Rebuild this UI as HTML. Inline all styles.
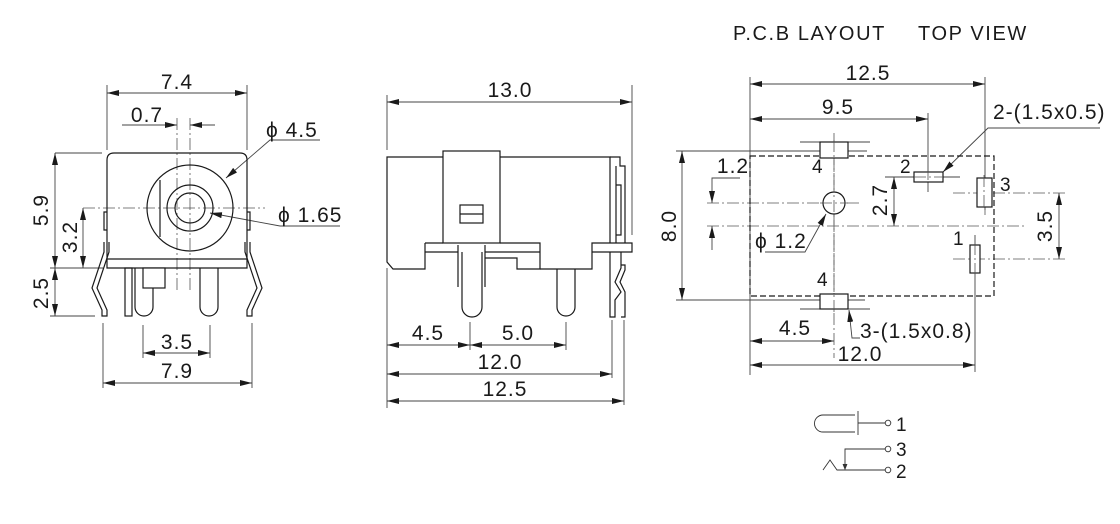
<!DOCTYPE html>
<html><head><meta charset="utf-8"><style>html,body{margin:0;padding:0;background:#fff}svg{display:block}text{font-family:"Liberation Sans",sans-serif;fill:#1a1a1a}</style></head><body>
<svg width="1120" height="524" viewBox="0 0 1120 524" xmlns="http://www.w3.org/2000/svg">
<defs>
<marker id="a" viewBox="0 0 12 6" refX="12" refY="3" markerWidth="12" markerHeight="6" orient="auto-start-reverse" markerUnits="userSpaceOnUse"><path d="M0,0 L12,3 L0,6z" fill="#1a1a1a"/></marker>
</defs>
<g font-size="20" letter-spacing="1.6">
<text x="733" y="40">P.C.B LAYOUT</text>
<text x="918" y="40">TOP VIEW</text>
</g>
<!-- dimension lines -->
<g stroke="#444" stroke-width="0.9" fill="none">
 <line x1="107" y1="85" x2="107" y2="150"/><line x1="247" y1="85" x2="247" y2="150"/>
 <line x1="107" y1="93" x2="247" y2="93" marker-start="url(#a)" marker-end="url(#a)"/>
 <line x1="122" y1="125" x2="177" y2="125" marker-end="url(#a)"/>
 <line x1="215" y1="125" x2="190" y2="125" marker-end="url(#a)"/>
 <line x1="55" y1="153" x2="102" y2="153"/><line x1="50" y1="268" x2="103" y2="268"/><line x1="50" y1="316" x2="95" y2="316"/>
 <line x1="55" y1="153" x2="55" y2="268" marker-start="url(#a)" marker-end="url(#a)"/>
 <line x1="55" y1="268" x2="55" y2="316" marker-start="url(#a)" marker-end="url(#a)"/>
 <line x1="83" y1="208" x2="83" y2="268" marker-start="url(#a)" marker-end="url(#a)"/>
 <line x1="143" y1="325" x2="143" y2="358"/><line x1="210" y1="325" x2="210" y2="358"/>
 <line x1="143" y1="353" x2="210" y2="353" marker-start="url(#a)" marker-end="url(#a)"/>
 <line x1="103" y1="323" x2="103" y2="388"/><line x1="252" y1="323" x2="252" y2="388"/>
 <line x1="103" y1="383" x2="252" y2="383" marker-start="url(#a)" marker-end="url(#a)"/>
 <polyline points="320,140 270,140 226,178" marker-end="url(#a)"/>
 <polyline points="340,226 280,226 210,213" marker-end="url(#a)"/>
 <line x1="387" y1="95" x2="387" y2="150"/><line x1="632" y1="85" x2="632" y2="235"/>
 <line x1="387" y1="102" x2="632" y2="102" marker-start="url(#a)" marker-end="url(#a)"/>
 <line x1="387" y1="268" x2="387" y2="408"/><line x1="470" y1="322" x2="470" y2="350"/><line x1="566" y1="322" x2="566" y2="350"/>
 <line x1="612" y1="320" x2="612" y2="378"/><line x1="624" y1="320" x2="624" y2="405"/>
 <line x1="387" y1="345" x2="470" y2="345" marker-start="url(#a)" marker-end="url(#a)"/>
 <line x1="470" y1="345" x2="566" y2="345" marker-start="url(#a)" marker-end="url(#a)"/>
 <line x1="387" y1="374" x2="612" y2="374" marker-start="url(#a)" marker-end="url(#a)"/>
 <line x1="387" y1="401" x2="624" y2="401" marker-start="url(#a)" marker-end="url(#a)"/>
 <line x1="750" y1="77" x2="750" y2="375"/><line x1="928" y1="113" x2="928" y2="192"/><line x1="985" y1="77" x2="985" y2="210"/>
 <line x1="750" y1="84" x2="985" y2="84" marker-start="url(#a)" marker-end="url(#a)"/>
 <line x1="750" y1="119" x2="928" y2="119" marker-start="url(#a)" marker-end="url(#a)"/>
 <line x1="676" y1="151" x2="867" y2="151"/><line x1="676" y1="300" x2="865" y2="300"/>
 <line x1="682" y1="151" x2="682" y2="300" marker-start="url(#a)" marker-end="url(#a)"/>
 <polyline points="740,178 712,178 712,203" marker-end="url(#a)"/>
 <line x1="712" y1="250" x2="712" y2="226" marker-end="url(#a)"/>
 <line x1="894" y1="177" x2="894" y2="226" marker-start="url(#a)" marker-end="url(#a)"/>
 <line x1="885" y1="177" x2="905" y2="177"/>
 <line x1="1059" y1="193" x2="1059" y2="259" marker-start="url(#a)" marker-end="url(#a)"/>
 <polyline points="1100,128 988,128 943,172" marker-end="url(#a)"/>
 <polyline points="765,252 805,252 826,214" marker-end="url(#a)"/>
 <polyline points="860,338 852,338 849,310" marker-end="url(#a)"/>
 <line x1="975" y1="235" x2="975" y2="372"/>
 <line x1="750" y1="341" x2="834" y2="341" marker-start="url(#a)" marker-end="url(#a)"/>
 <line x1="750" y1="365" x2="975" y2="365" marker-start="url(#a)" marker-end="url(#a)"/>
 <line x1="800" y1="142" x2="870" y2="142"/><line x1="800" y1="309" x2="870" y2="309"/>
 <line x1="903" y1="177" x2="960" y2="177"/>
</g>
<g stroke="#555" stroke-width="0.8" fill="none" stroke-dasharray="12,3,2,3">
 <line x1="177" y1="118" x2="177" y2="290"/><line x1="190" y1="118" x2="190" y2="290"/>
 <line x1="83" y1="208" x2="265" y2="208"/>
 <line x1="834" y1="133" x2="834" y2="358"/>
 <line x1="707" y1="203" x2="860" y2="203"/>
 <line x1="707" y1="226" x2="1025" y2="226"/>
 <line x1="953" y1="193" x2="1065" y2="193"/>
 <line x1="953" y1="259" x2="1065" y2="259"/>
 <line x1="928" y1="165" x2="928" y2="192"/>
 <line x1="985" y1="170" x2="985" y2="215"/>
 <line x1="975" y1="240" x2="975" y2="280"/>
</g>
<g stroke="#1a1a1a" stroke-width="1.2" fill="none">
 <path d="M107,268 V160 Q107,153 114,153 H240 Q247,153 247,160 V268 Z"/>
 <line x1="107" y1="259" x2="247" y2="259"/>
 <circle cx="190" cy="208" r="43"/><circle cx="190" cy="208" r="23"/><circle cx="190" cy="208" r="15"/>
 <line x1="160" y1="180" x2="160" y2="237"/>
 <path d="M107,212 h-3 v18 h3"/><path d="M247,212 h3 v18 h-3"/>
 <path d="M104,242 v10 l-12,36 l10,22 v6 h5 v-6 l-10,-22 l12,-36 v-10"/>
 <path d="M250,242 v10 l12,36 l-10,22 v6 h-5 v-6 l10,-22 l-12,-36 v-10"/>
 <rect x="125" y="268" width="7" height="48"/>
 <path d="M135,268 V307 a9,9 0 0 0 18,0 V268"/>
 <rect x="143" y="268" width="22" height="20" fill="#fff"/>
 <path d="M200,268 V307 a9,9 0 0 0 18,0 V268"/>
</g>
<g stroke="#1a1a1a" stroke-width="1.2" fill="none">
 <path d="M425,243 V269 H393 L387,262 V157 H443"/>
 <rect x="443" y="151" width="57" height="92"/>
 <path d="M500,157 H610 V243"/>
 <rect x="460" y="205" width="23" height="18"/><line x1="460" y1="214" x2="483" y2="214"/>
 <path d="M425,243 H443 M500,243 H540 V269 H517 V258 H485 M425,252 H458 M485,252 H540"/>
 <path d="M592,243 H632 V252 H592 Z M592,252 V269 H540"/>
 <path d="M458,245 V287 M485,245 V287"/>
 <path d="M462,252 V307 a10,10 0 0 0 20,0 V252"/>
 <path d="M557,269 V307 a9,9 0 0 0 18,0 V269"/>
 <path d="M610,157 H620 V166 H625 V243 M616,166 V243 M616,185 h5 v50 h-5"/>
 <path d="M610,252 V317 h5 V300 l6,-8 l-6,-10 l6,-14 V252 M621,265 h4 v5 l-5,12 l5,10 v25 h-4"/>
</g>
<g stroke="#1a1a1a" stroke-width="1.2" fill="none">
 <rect x="750" y="156" width="244" height="140" stroke-dasharray="6,3"/>
 <rect x="820" y="142" width="28" height="16" fill="#fff"/>
 <rect x="820" y="294" width="28" height="15" fill="#fff"/>
 <rect x="914" y="172" width="29" height="10" fill="#fff"/>
 <rect x="977" y="178" width="15" height="29" fill="#fff"/>
 <rect x="970" y="245" width="10" height="28" fill="#fff"/>
 <circle cx="834" cy="203" r="11" fill="#fff"/>
</g>
<g stroke="#555" stroke-width="0.8" stroke-dasharray="12,3,2,3" fill="none">
 <line x1="834" y1="140" x2="834" y2="312"/><line x1="820" y1="203" x2="848" y2="203"/>
 <line x1="914" y1="177" x2="943" y2="177"/><line x1="928" y1="168" x2="928" y2="190"/>
 <line x1="984" y1="175" x2="984" y2="210"/><line x1="975" y1="243" x2="975" y2="276"/>
</g>
<g stroke="#333" stroke-width="0.9" fill="none">
 <path d="M855,415 H823 a8.5,8.5 0 0 0 0,17 H855"/>
 <line x1="858" y1="411" x2="858" y2="435"/>
 <line x1="858" y1="423" x2="885" y2="423"/><circle cx="888" cy="423" r="2.8"/>
 <polyline points="845,467 845,449 885,449" /><circle cx="888" cy="449" r="2.8"/>
 <polyline points="823,470 830,460 837,470 885,470"/><circle cx="888" cy="470" r="2.8"/>
 <path d="M843,464 L845,469 L847,464" fill="#333"/>
</g>
<g font-size="21" letter-spacing="1">
 <text x="177" y="89" text-anchor="middle">7.4</text>
 <text x="147" y="122" text-anchor="middle">0.7</text>
 <text x="266" y="137">ϕ 4.5</text>
 <text x="278" y="222">ϕ 1.65</text>
 <text transform="translate(48,210) rotate(-90)" text-anchor="middle">5.9</text>
 <text transform="translate(77,237) rotate(-90)" text-anchor="middle">3.2</text>
 <text transform="translate(48,293) rotate(-90)" text-anchor="middle">2.5</text>
 <text x="177" y="349" text-anchor="middle">3.5</text>
 <text x="177" y="378" text-anchor="middle">7.9</text>
 <text x="510" y="97" text-anchor="middle">13.0</text>
 <text x="428" y="340" text-anchor="middle">4.5</text>
 <text x="518" y="340" text-anchor="middle">5.0</text>
 <text x="500" y="369" text-anchor="middle">12.0</text>
 <text x="505" y="396" text-anchor="middle">12.5</text>
 <text x="868" y="80" text-anchor="middle">12.5</text>
 <text x="838" y="114" text-anchor="middle">9.5</text>
 <text transform="translate(676,226) rotate(-90)" text-anchor="middle">8.0</text>
 <text x="733" y="173" text-anchor="middle">1.2</text>
 <text transform="translate(887,200) rotate(-90)" text-anchor="middle">2.7</text>
 <text transform="translate(1052,226) rotate(-90)" text-anchor="middle">3.5</text>
 <text x="993" y="119">2-(1.5x0.5)</text>
 <text x="755" y="248">ϕ 1.2</text>
 <text x="860" y="338">3-(1.5x0.8)</text>
 <text x="795" y="335" text-anchor="middle">4.5</text>
 <text x="860" y="361" text-anchor="middle">12.0</text>
 <text x="812" y="173" font-size="19">4</text>
 <text x="817" y="286" font-size="19">4</text>
 <text x="900" y="173" font-size="19">2</text>
 <text x="1000" y="191" font-size="19">3</text>
 <text x="953" y="245" font-size="19">1</text>
 <text x="896" y="431" font-size="19">1</text>
 <text x="896" y="456" font-size="19">3</text>
 <text x="896" y="478" font-size="19">2</text>
</g>
</svg>
</body></html>
